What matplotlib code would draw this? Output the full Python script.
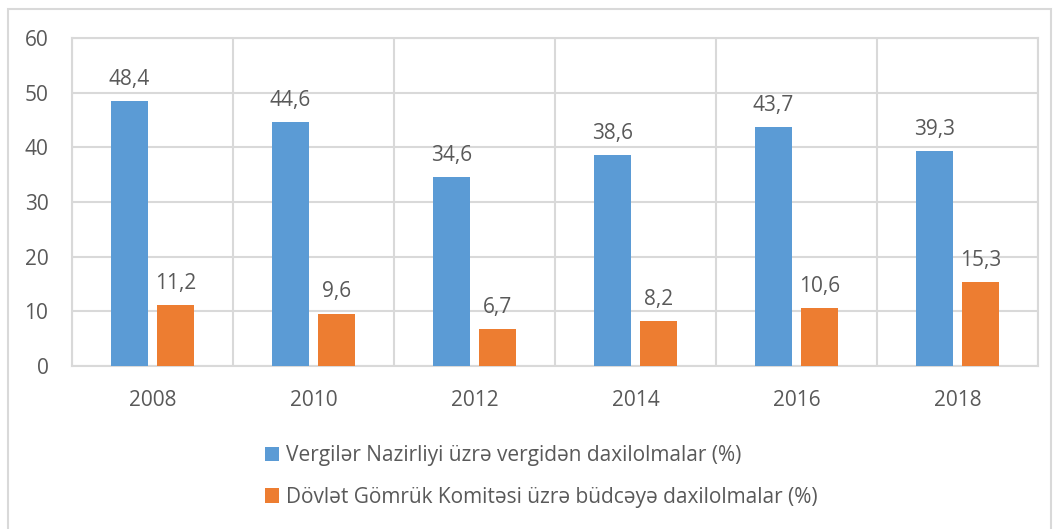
import numpy as np
import matplotlib.pyplot as plt
from matplotlib.patches import Rectangle

plt.rcParams['font.family'] = ['Open Sans', 'DejaVu Sans']

years = ['2008', '2010', '2012', '2014', '2016', '2018']
vergi = [48.4, 44.6, 34.6, 38.6, 43.7, 39.3]
gomruk = [11.2, 9.6, 6.7, 8.2, 10.6, 15.3]
labels = ['Vergilər Nazirliyi üzrə vergidən daxilolmalar (%)',
          'Dövlət Gömrük Komitəsi üzrə büdcəyə daxilolmalar (%)']

blue = '#5b9bd5'
orange = '#ed7d31'
grid = '#d9d9d9'
txt = '#595959'

fig = plt.figure(figsize=(10.59, 5.29), dpi=100)
ax = fig.add_axes([72 / 1059, 1 - 366 / 529, (1038 - 72) / 1059, (366 - 38) / 529])

# outer chart border (bottom runs off the page)
fig.patches.append(Rectangle((8 / 1059, -0.1), (1051 - 8) / 1059, 1.1 - 9 / 529,
                             transform=fig.transFigure, fill=False,
                             edgecolor=grid, lw=1.5))
# cut-off line of text above the chart (only its bottom edge shows)
fig.text(0.0, 1.0 - 0.5 / 529, 'komitəsi.', family='Liberation Serif',
         fontweight='bold', fontsize=17, color='black', va='baseline', ha='left')

x = np.arange(len(years))
w = 0.224
off = 0.143
b1 = ax.bar(x - off, vergi, w, color=blue, label=labels[0], zorder=3)
b2 = ax.bar(x + off, gomruk, w, color=orange, label=labels[1], zorder=3)

for bars, vals in ((b1, vergi), (b2, gomruk)):
    for r, v in zip(bars, vals):
        ax.annotate(f'{v:.1f}'.replace('.', ','), (r.get_x() + r.get_width() / 2, v),
                    xytext=(0, 8), textcoords='offset points', ha='center',
                    va='bottom', fontsize=15, color=txt)

ax.set_xlim(-0.5, len(years) - 0.5)
ax.set_ylim(0, 60)
ax.set_yticks(range(0, 61, 10))
ax.set_xticks(x)
ax.set_xticklabels(years)
ax.set_xticks(np.arange(-0.5, len(years)), minor=True)
ax.grid(True, axis='y', color=grid, lw=1.5, zorder=0)
ax.grid(True, axis='x', which='minor', color=grid, lw=1.5, zorder=0)
ax.tick_params(axis='both', which='both', length=0, labelsize=15, labelcolor=txt)
ax.tick_params(axis='y', pad=17)
ax.tick_params(axis='x', pad=17)
for s in ax.spines.values():
    s.set_color(grid)
    s.set_linewidth(1.5)

ax.legend(loc='upper left', bbox_to_anchor=(265 / 1059, 1 - 445 / 529),
          bbox_transform=fig.transFigure, frameon=False, fontsize=15,
          labelcolor=txt, handlelength=0.67, handleheight=0.67,
          handletextpad=0.35, labelspacing=1.0, borderaxespad=0, borderpad=0)

fig.savefig('out.png', dpi=100)
